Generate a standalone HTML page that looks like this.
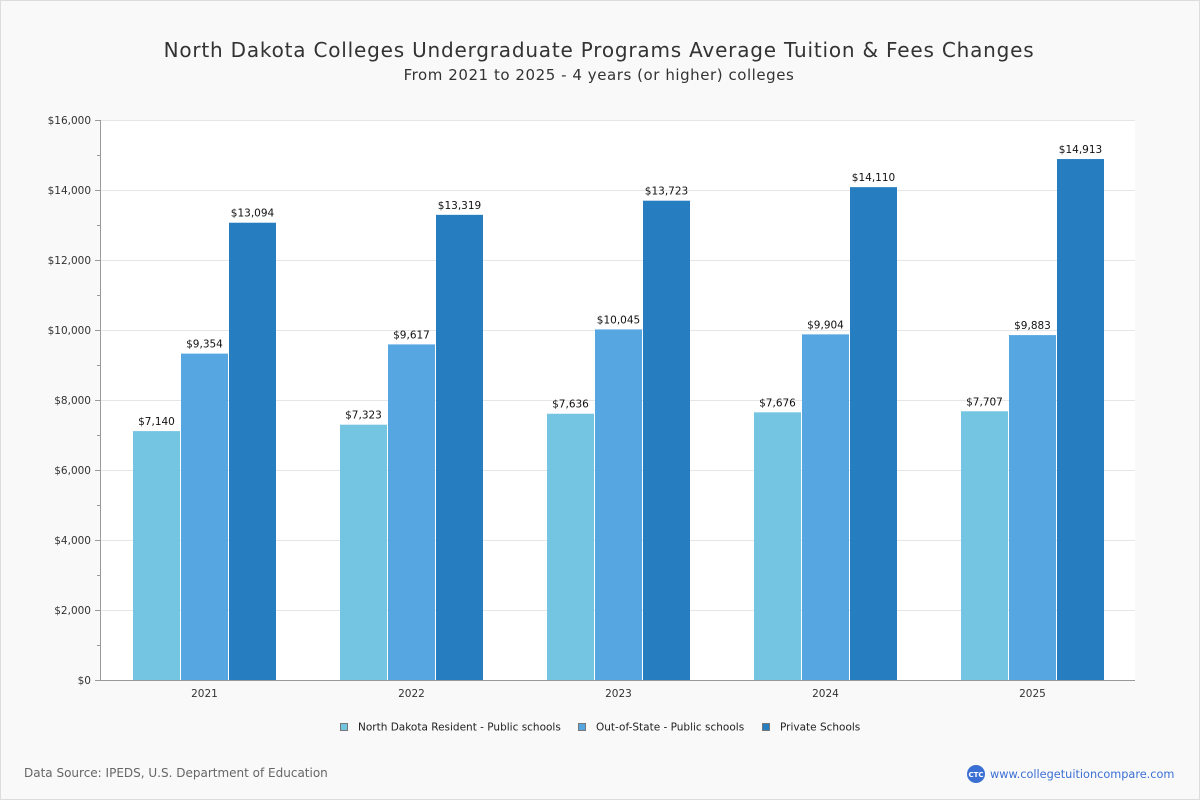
<!DOCTYPE html>
<html><head><meta charset="utf-8"><style>
body{margin:0;background:#fff;font-family:"DejaVu Sans","Liberation Sans",sans-serif;}
#wrap{position:relative;width:1198px;height:798px;border:1px solid #ddd;background:#f9f9f9;}
</style></head><body>
<div id="wrap">
<svg id="chart" width="1198" height="798">
<text x="598" y="56" text-anchor="middle" font-size="20" letter-spacing="0.8" fill="#333">North Dakota Colleges Undergraduate Programs Average Tuition &amp; Fees Changes</text>
<text x="598" y="79" text-anchor="middle" font-size="15" letter-spacing="0.55" fill="#333">From 2021 to 2025 - 4 years (or higher) colleges</text>
<rect x="99" y="119" width="1035" height="560" fill="#fff"/>
<g id="grid"></g><g id="bars"></g><g id="axes"></g>
<g font-size="10.5" fill="#222">
<rect x="339.5" y="722.5" width="7" height="7" fill="#74c5e2" stroke="#777"/>
<text x="357" y="729.5">North Dakota Resident - Public schools</text>
<rect x="577.5" y="722.5" width="7" height="7" fill="#56a6e2" stroke="#777"/>
<text x="595" y="729.5">Out-of-State - Public schools</text>
<rect x="761.5" y="722.5" width="7" height="7" fill="#267dbf" stroke="#777"/>
<text x="779" y="729.5">Private Schools</text>
</g>
<text x="23" y="776" font-size="12" fill="#666">Data Source: IPEDS, U.S. Department of Education</text>
<circle cx="975" cy="773" r="9" fill="#3b6fd4"/>
<text x="975" y="776" text-anchor="middle" font-size="7" fill="#fff" font-weight="bold">CTC</text>
<text x="989" y="777" font-size="11.3" fill="#3b6fd4">www.collegetuitioncompare.com</text>
</svg></div>
<script>
const categories=["2021","2022","2023","2024","2025"];
const resident=[7140,7323,7636,7676,7707];
const outOfState=[9354,9617,10045,9904,9883];
const privateSchools=[13094,13319,13723,14110,14913];
const yTicks=[0,2000,4000,6000,8000,10000,12000,14000,16000];
const NS="http://www.w3.org/2000/svg";
const X0=99,X1=1134,Y0=679,Y1=119,YMAX=16000;
const y=v=>Y0-(v/YMAX)*(Y0-Y1);
const band=(X1-X0)/categories.length;
const bw=47;
const fmt=v=>"$"+v.toLocaleString("en-US");
function mk(tag,attrs,parent){const e=document.createElementNS(NS,tag);for(const k in attrs)e.setAttribute(k,attrs[k]);parent.appendChild(e);return e;}
const grid=document.getElementById('grid'),bars=document.getElementById('bars'),axes=document.getElementById('axes');
yTicks.forEach(t=>{
 const g=mk('line',{x1:X0,x2:X1,y1:y(t)+.5,y2:y(t)+.5,stroke:'#e6e6e6'},grid);
 
 
 const tx=mk('text',{x:X0-9,y:y(t)+4,'text-anchor':'end','font-size':10.5,fill:'#333'},axes);
 tx.textContent=fmt(t);
 
 
 mk('line',{x1:X0-5,x2:X0,y1:y(t)+.5,y2:y(t)+.5,stroke:'#999'},axes);
 if(t<YMAX){mk('line',{x1:X0-3,x2:X0,y1:y(t+1000)+.5,y2:y(t+1000)+.5,stroke:'#999'},axes);}
});
mk('line',{x1:X0+.5,x2:X0+.5,y1:Y1,y2:Y0,stroke:'#999'},axes);
mk('line',{x1:X0,x2:X1,y1:Y0+.5,y2:Y0+.5,stroke:'#999'},axes);
const series=[[resident,'#74c5e2','resident'],[outOfState,'#56a6e2','out-of-state'],[privateSchools,'#267dbf','private']];
categories.forEach((c,i)=>{
 const cx=X0+band*(i+.5)+1;
 const lab=mk('text',{x:cx,y:Y0+17,'text-anchor':'middle','font-size':10.5,fill:'#333'},axes);
 lab.textContent=c;
 
 
 series.forEach((s,j)=>{
  const v=s[0][i];const bx=cx-1.5*bw-1+j*(bw+1);
  const r=mk('rect',{x:bx,y:y(v)+1,width:bw,height:Y0-y(v)-1,fill:s[1]},bars);
  
  
  const t=mk('text',{x:bx+bw/2,y:y(v)-5,'text-anchor':'middle','font-size':10.5,fill:'#111'},bars);
  t.textContent=fmt(v);
  
  
 });
});
</script>
</body></html>
